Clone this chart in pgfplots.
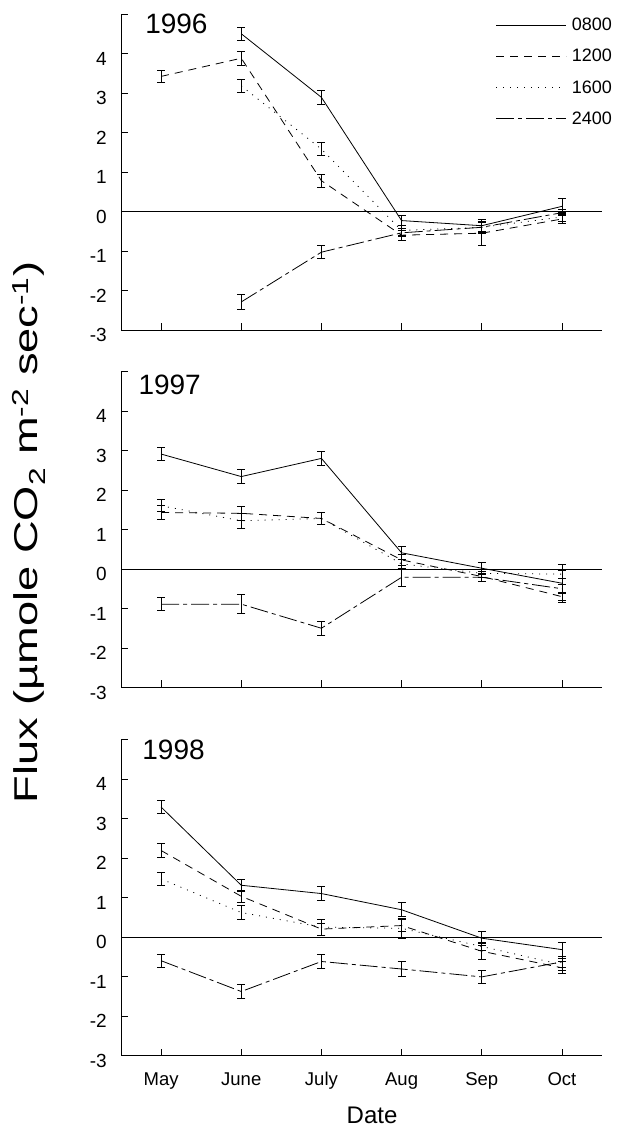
\documentclass[border=0pt]{standalone}
\usepackage{pgfplots}
\pgfplotsset{compat=1.18}
\usepackage{pgfplotstable}
\usepackage{fontspec}
\setmainfont{Liberation Sans}
\usepackage{graphicx}

% columns: x, 0800 (a), 1200 (b), 1600 (c), 2400 (d), with errors
\pgfplotstableread{
x a ae b be c ce d de
0 nan 0 3.42 0.16 nan 0 nan 0
1 4.50 0.16 3.88 0.17 3.18 0.17 -2.29 0.20
2 2.89 0.17 0.78 0.17 1.58 0.17 -1.03 0.17
3 -0.23 0.12 -0.60 0.12 -0.48 0.12 -0.54 0.10
4 -0.36 0.15 -0.55 0.30 -0.40 0.15 -0.40 0.12
5 0.13 0.19 -0.19 0.12 -0.14 0.12 -0.03 0.08
}\dataA
\pgfplotstableread{
x a ae b be c ce d de
0 2.91 0.17 1.43 0.17 1.60 0.15 -0.89 0.17
1 2.34 0.18 1.41 0.17 1.22 0.18 -0.89 0.24
2 2.80 0.17 1.28 0.15 1.28 0.15 -1.50 0.17
3 0.41 0.17 0.23 0.15 0.13 0.12 -0.21 0.22
4 0.02 0.15 -0.19 0.12 -0.11 0.10 -0.21 0.10
5 -0.36 0.48 -0.70 0.10 -0.13 0.10 -0.50 0.12
}\dataB
\pgfplotstableread{
x a ae b be c ce d de
0 3.29 0.17 2.19 0.17 1.47 0.17 -0.60 0.17
1 1.31 0.16 1.03 0.15 0.62 0.18 -1.38 0.17
2 1.10 0.17 0.20 0.15 0.25 0.20 -0.62 0.17
3 0.69 0.18 0.29 0.15 0.22 0.25 -0.81 0.18
4 -0.03 0.17 -0.36 0.20 -0.24 0.10 -1.01 0.17
5 -0.32 0.18 -0.78 0.15 -0.70 0.15 -0.63 0.15
}\dataC

\tikzset{
  s0800/.style={solid},
  s1200/.style={dash pattern=on 8pt off 6pt},
  s1600/.style={dash pattern=on 1pt off 6pt},
  s2400/.style={dash pattern=on 18pt off 4pt on 4pt off 4pt},
}
\pgfplotsset{
  panel/.style={
    scale only axis, width=481pt, height=316pt,
    anchor=south west,
    xmin=-0.5, xmax=5.5, ymin=-3, ymax=5,
    axis x line*=bottom, axis y line*=left,
    axis line style={line width=0.8pt, black},
    xtick={0,...,5}, xticklabels={},
    ytick={-3,...,5}, yticklabels={-3,-2,-1,0,1,2,3,4,{}},
    tick align=inside, major tick length=7pt,
    tick style={line width=0.8pt, black},
    yticklabel style={font=\fontsize{19}{19}\selectfont, inner sep=0pt, xshift=-14pt, yshift=-5pt},
    xticklabel style={font=\fontsize{18.5}{18.5}\selectfont, inner sep=0pt, anchor=base, yshift=-29.5pt},
    clip=false,
  },
  eb/.style={black, line width=0.8pt,
    error bars/y dir=both, error bars/y explicit,
    error bars/error bar style={solid, line width=0.8pt},
    error bars/error mark options={solid, rotate=90, line width=0.8pt, mark size=4pt}},
}

\begin{document}
\begin{tikzpicture}
\path[use as bounding box] (0pt,0pt) rectangle (618pt,1133pt);

% ---- 1996 ----
\begin{axis}[panel, at={(121pt,803pt)},
  legend style={draw=none, fill=none, at={(axis description cs:1.023,0.99)}, anchor=north east,
    font=\fontsize{18}{18}\selectfont, row sep=15pt, column sep=4pt, inner sep=0pt, nodes={inner sep=1pt}},
  legend cell align=left,
  legend image code/.code={\draw[#1, line width=0.8pt] (0pt,0pt) -- (70pt,0pt);}]
\addplot[s0800, eb] table[x=x, y=a, y error=ae] {\dataA};
\addlegendentry{0800}
\addplot[s1200, eb] table[x=x, y=b, y error=be] {\dataA};
\addlegendentry{1200}
\addplot[s1600, eb] table[x=x, y=c, y error=ce] {\dataA};
\addlegendentry{1600}
\addplot[s2400, eb] table[x=x, y=d, y error=de] {\dataA};
\addlegendentry{2400}
\draw[line width=0.8pt] (axis cs:-0.5,0) -- (axis cs:5.5,0);
\node[anchor=north west, inner sep=0pt, font=\fontsize{28}{28}\selectfont] at (rel axis cs:0.05,1) {1996};
\end{axis}

% ---- 1997 ----
\begin{axis}[panel, at={(121pt,445.5pt)}]
\addplot[s0800, eb] table[x=x, y=a, y error=ae] {\dataB};
\addplot[s1200, eb] table[x=x, y=b, y error=be] {\dataB};
\addplot[s1600, eb] table[x=x, y=c, y error=ce] {\dataB};
\addplot[s2400, eb] table[x=x, y=d, y error=de] {\dataB};
\draw[line width=0.8pt] (axis cs:-0.5,0) -- (axis cs:5.5,0);
\node[anchor=north west, inner sep=0pt, font=\fontsize{28}{28}\selectfont] at (rel axis cs:0.036,0.99) {1997};
\end{axis}

% ---- 1998 ----
\begin{axis}[panel, at={(121pt,77.5pt)},
  xticklabels={May,June,July,Aug,Sep,Oct},
  xlabel={Date},
  xlabel style={at={(axis description cs:0.522,0)}, anchor=north, yshift=-51pt, inner sep=0pt,
    font=\fontsize{24}{24}\selectfont}]
\addplot[s0800, eb] table[x=x, y=a, y error=ae] {\dataC};
\addplot[s1200, eb] table[x=x, y=b, y error=be] {\dataC};
\addplot[s1600, eb] table[x=x, y=c, y error=ce] {\dataC};
\addplot[s2400, eb] table[x=x, y=d, y error=de] {\dataC};
\draw[line width=0.8pt] (axis cs:-0.5,0) -- (axis cs:5.5,0);
\node[anchor=north west, inner sep=0pt, font=\fontsize{28}{28}\selectfont] at (rel axis cs:0.044,1) {1998};
\end{axis}

\node[rotate=90, anchor=base, inner sep=0pt, font=\fontsize{33}{33}\selectfont] at (37.5pt,600.5pt)
  {\scalebox{1.37}[1]{Flux (µmole CO\textsubscript{2} m\textsuperscript{-2} sec\textsuperscript{-1})}};
\end{tikzpicture}
\end{document}
